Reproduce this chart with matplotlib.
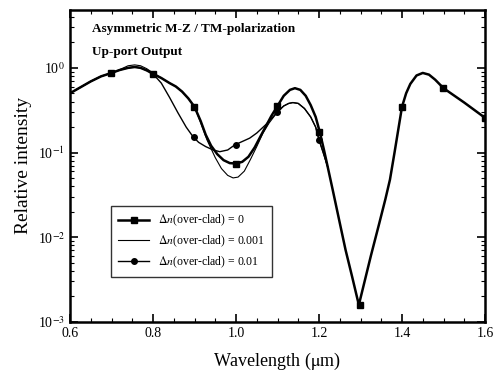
import matplotlib
matplotlib.use("Agg")
import matplotlib.pyplot as plt
import numpy as np

plt.rcParams["font.family"] = ["Liberation Serif", "DejaVu Serif"]
plt.rcParams["mathtext.fontset"] = "stix"

# curve traces (wavelength in um, log10 of intensity)
wl_dn0 = [0.600, 0.625, 0.650, 0.675, 0.700, 0.720, 0.740, 0.756, 0.770, 0.785,
          0.800, 0.820, 0.840, 0.855, 0.870, 0.885, 0.900, 0.915, 0.927, 0.940,
          0.955, 0.970, 0.985, 1.000, 1.015, 1.030, 1.045, 1.060, 1.072, 1.085,
          1.100, 1.115, 1.130, 1.142, 1.155, 1.168, 1.180, 1.192, 1.202, 1.212,
          1.221, 1.233, 1.250, 1.264, 1.280, 1.296, 1.310, 1.325, 1.345, 1.360,
          1.371, 1.382, 1.392, 1.400, 1.410, 1.420, 1.435, 1.450, 1.465, 1.480,
          1.500, 1.550, 1.600]
log_dn0 = [-0.30, -0.23, -0.16, -0.10, -0.06, -0.025, 0.00, 0.01, 0.00, -0.03,
           -0.07, -0.12, -0.18, -0.22, -0.28, -0.36, -0.46, -0.63, -0.79, -0.92,
           -1.02, -1.09, -1.125, -1.13, -1.11, -1.05, -0.94, -0.80, -0.69, -0.57,
           -0.45, -0.33, -0.26, -0.24, -0.26, -0.33, -0.44, -0.58, -0.76, -0.97,
           -1.17, -1.44, -1.83, -2.15, -2.47, -2.80, -2.52, -2.22, -1.84, -1.55,
           -1.32, -1.00, -0.70, -0.46, -0.30, -0.19, -0.09, -0.06, -0.08, -0.14,
           -0.24, -0.41, -0.59]

wl_dn001 = [0.600, 0.625, 0.650, 0.675, 0.700, 0.720, 0.740, 0.756, 0.770, 0.785,
            0.800, 0.820, 0.840, 0.855, 0.870, 0.885, 0.900, 0.915, 0.930, 0.950,
            0.965, 0.980, 0.993, 1.005, 1.020, 1.035, 1.050, 1.065, 1.080, 1.100,
            1.115, 1.127, 1.137, 1.150, 1.165, 1.180, 1.192, 1.200, 1.210, 1.221]
log_dn001 = [-0.30, -0.23, -0.16, -0.10, -0.06, -0.02, 0.025, 0.035, 0.025, -0.01,
             -0.06, -0.12, -0.18, -0.22, -0.28, -0.36, -0.46, -0.65, -0.85, -1.06,
             -1.19, -1.27, -1.30, -1.29, -1.22, -1.08, -0.93, -0.77, -0.65, -0.52,
             -0.45, -0.42, -0.41, -0.42, -0.48, -0.58, -0.70, -0.85, -1.00, -1.17]

wl_dn01 = [0.600, 0.625, 0.650, 0.675, 0.700, 0.720, 0.740, 0.756, 0.770, 0.785,
           0.800, 0.820, 0.840, 0.860, 0.880, 0.896, 0.910, 0.927, 0.945, 0.961,
           0.980, 0.997, 1.015, 1.033, 1.050, 1.072, 1.085, 1.100, 1.115, 1.127,
           1.137, 1.150, 1.165, 1.180, 1.192, 1.200, 1.210, 1.221]
log_dn01 = [-0.30, -0.23, -0.16, -0.10, -0.06, -0.025, 0.00, 0.01, 0.00, -0.03,
            -0.07, -0.18, -0.35, -0.53, -0.70, -0.81, -0.88, -0.93, -0.97, -0.99,
            -0.97, -0.91, -0.87, -0.83, -0.77, -0.67, -0.60, -0.52, -0.45, -0.42,
            -0.41, -0.42, -0.48, -0.58, -0.70, -0.85, -1.00, -1.17]

# marker positions
mk_wl = [0.7, 0.8, 0.9, 1.0, 1.1, 1.2, 1.3, 1.4, 1.5, 1.6]
mk_dn0 = [-0.06, -0.07, -0.46, -1.13, -0.45, -0.76, -2.80, -0.46, -0.24, -0.59]
mk_dn01 = [-0.06, -0.07, -0.82, -0.91, -0.52, -0.85, -2.80, -0.46, -0.24, -0.59]

labels = [r"$\mathit{\Delta n}$(over-clad) = 0",
          r"$\mathit{\Delta n}$(over-clad) = 0.001",
          r"$\mathit{\Delta n}$(over-clad) = 0.01"]

fig = plt.figure(figsize=(5, 3.8), dpi=100)
ax = fig.add_axes([0.14, 0.153, 0.83, 0.821])

p = lambda v: 10 ** np.asarray(v)

# thin line (0.001)
ax.plot(wl_dn001, p(log_dn001), color="black", linewidth=0.8, zorder=2)
# circles (0.01)
ax.plot(wl_dn01, p(log_dn01), color="black", linewidth=1.0, zorder=2)
ax.plot(mk_wl, p(mk_dn01), linestyle="none", marker="o", markersize=4,
        color="black", zorder=3)
# squares (0)
ax.plot(wl_dn0, p(log_dn0), color="black", linewidth=1.8, zorder=4)
ax.plot(mk_wl, p(mk_dn0), linestyle="none", marker="s", markersize=5,
        color="black", zorder=5)

# legend proxies
h0, = ax.plot([], [], color="black", linewidth=1.8, marker="s", markersize=5)
h1, = ax.plot([], [], color="black", linewidth=0.8)
h2, = ax.plot([], [], color="black", linewidth=1.0, marker="o", markersize=4)
leg = ax.legend([h0, h1, h2], labels, loc="lower left",
                bbox_to_anchor=(0.085, 0.125), fontsize=8.5, frameon=True,
                fancybox=False, edgecolor="black", handlelength=2.6,
                borderpad=0.6, labelspacing=0.45)
leg.get_frame().set_linewidth(1.0)

ax.set_yscale("log")
ax.set_xlim(0.6, 1.6)
ax.set_ylim(1e-3, 4.84)
ax.set_xticks([0.6, 0.8, 1.0, 1.2, 1.4, 1.6])
ax.set_xticklabels(["0.6", "0.8", "1.0", "1.2", "1.4", "1.6"])
ax.set_xticks(np.arange(0.6, 1.601, 0.05), minor=True)
ax.set_yticks([1e-3, 1e-2, 1e-1, 1e0])
ax.set_yticklabels([r"10$^{-3}$", r"10$^{-2}$", r"10$^{-1}$", r"10$^{0}$"])
ax.tick_params(which="both", direction="in", top=True, right=True,
               labelsize=10)
ax.tick_params(which="major", length=6, width=1.2)
ax.tick_params(which="minor", length=3, width=0.8)
for s in ax.spines.values():
    s.set_linewidth(1.8)

ax.set_xlabel(r"Wavelength ($\mathrm{\mu}$m)", fontsize=13, labelpad=8)
ax.set_ylabel("Relative intensity", fontsize=14, labelpad=4)

ax.text(0.053, 0.94, "Asymmetric M-Z / TM-polarization", transform=ax.transAxes,
        fontsize=9.5, fontweight="bold", va="center", ha="left")
ax.text(0.053, 0.865, "Up-port Output", transform=ax.transAxes,
        fontsize=9.5, fontweight="bold", va="center", ha="left")

fig.savefig("out.png", dpi=100)
